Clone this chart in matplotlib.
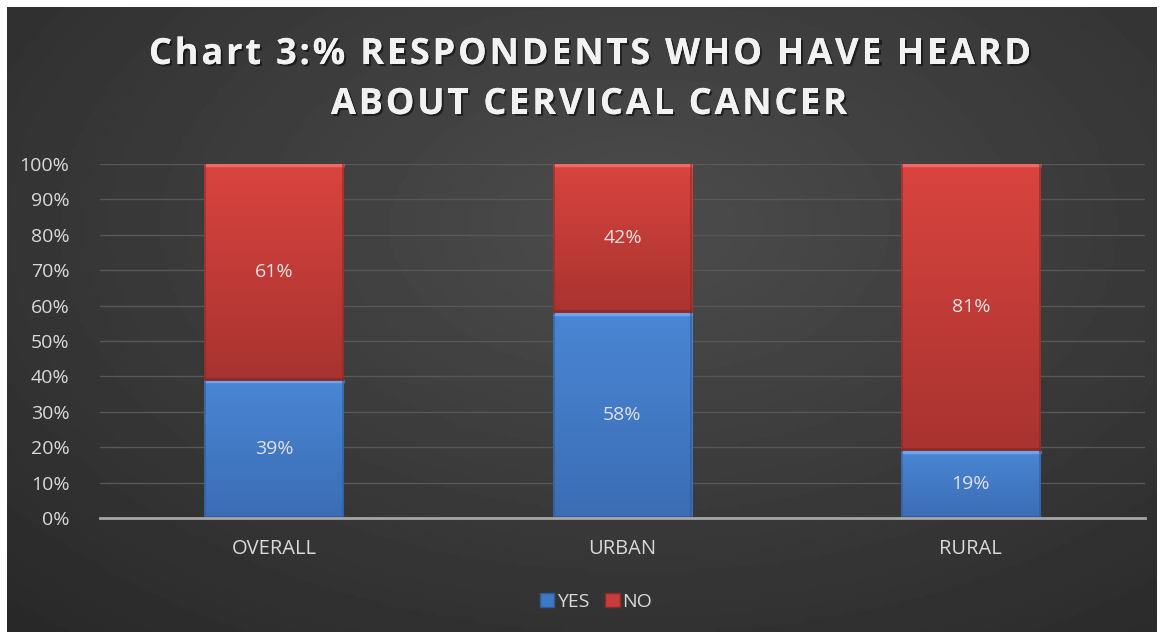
import numpy as np
import matplotlib
matplotlib.use("Agg")
import matplotlib.pyplot as plt
import matplotlib.patheffects as pe
from matplotlib.patches import Rectangle
from matplotlib.colors import LinearSegmentedColormap
from matplotlib.font_manager import FontProperties

categories = ["OVERALL", "URBAN", "RURAL"]
yes_vals = [39, 58, 19]
no_vals = [61, 42, 81]
series_names = ["YES", "NO"]
title_lines = ["Chart 3:% RESPONDENTS WHO HAVE HEARD", "ABOUT CERVICAL CANCER"]

plt.rcParams['font.family'] = ['Open Sans', 'DejaVu Sans']

W, H = 1162, 636
fig = plt.figure(figsize=(W / 100, H / 100), dpi=100)
fig.patch.set_facecolor('white')

# dark gradient background inside a thin white frame
bg = fig.add_axes([7 / W, 4 / H, 1150 / W, 625 / H])
bg.set_axis_off()
yy, xx = np.mgrid[0:1:200j, 0:1:300j]
d = np.sqrt(((xx - 0.55) * 1.1) ** 2 + ((yy - 0.35) * 1.0) ** 2)
bg.imshow(0.30 - 0.16 * np.clip(d, 0, 1), cmap='gray', vmin=0, vmax=1,
          aspect='auto', extent=[0, 1, 0, 1], origin='upper')

ax = fig.add_axes([100 / W, 118 / H, 1045 / W, 354 / H])
ax.set_facecolor('none')
x = np.arange(len(categories))
w = 0.40

blue_cmap = LinearSegmentedColormap.from_list('b', ['#3b6db4', '#4a86d4'])
red_cmap = LinearSegmentedColormap.from_list('r', ['#a83330', '#d9443f'])


def grad_bar(xc, bottom, height, cmap, edge_light, edge_dark):
    r = Rectangle((xc - w / 2, bottom), w, height, facecolor='none',
                  edgecolor='none', zorder=3)
    ax.add_patch(r)
    grad = np.linspace(1, 0, 100).reshape(-1, 1)
    im = ax.imshow(grad, cmap=cmap, aspect='auto', zorder=3,
                   extent=[xc - w / 2, xc + w / 2, bottom, bottom + height])
    im.set_clip_path(r)
    # bevel edges
    ax.plot([xc - w / 2, xc + w / 2], [bottom + height - 0.4] * 2,
            color=edge_light, lw=2.5, zorder=4, solid_capstyle='butt')
    ax.plot([xc - w / 2, xc + w / 2], [bottom + 0.4] * 2,
            color=edge_dark, lw=2, zorder=4, solid_capstyle='butt')
    for xe in (xc - w / 2 + 0.002, xc + w / 2 - 0.002):
        ax.plot([xe, xe], [bottom, bottom + height], color=edge_dark,
                lw=1.2, alpha=0.7, zorder=4)


for i in range(len(categories)):
    grad_bar(x[i], 0, yes_vals[i], blue_cmap, '#6aa6ef', '#2f5c99')
    grad_bar(x[i], yes_vals[i], no_vals[i], red_cmap, '#ee6a66', '#8c2a28')
    ax.text(x[i], yes_vals[i] / 2, f"{yes_vals[i]}%", ha='center', va='center',
            color='#e0e0e0', fontsize=14, zorder=5)
    ax.text(x[i], yes_vals[i] + no_vals[i] / 2, f"{no_vals[i]}%", ha='center',
            va='center', color='#e0e0e0', fontsize=14, zorder=5)

ax.set_xlim(-0.5, len(categories) - 0.5)
ax.set_ylim(0, 100)
ax.set_yticks(range(0, 101, 10))
ax.set_yticklabels([f"{v}%" for v in range(0, 101, 10)])
ax.set_xticks(x)
ax.set_xticklabels(categories, fontsize=14.5)
ax.tick_params(axis='both', length=0, colors='#d9d9d9')
ax.tick_params(axis='y', pad=22, labelsize=14)
ax.tick_params(axis='x', pad=15)
ax.grid(axis='y', color='#575757', lw=1)
ax.set_axisbelow(True)
for s in ['top', 'right', 'left']:
    ax.spines[s].set_visible(False)
ax.spines['bottom'].set_color('#a6a6a6')
ax.spines['bottom'].set_linewidth(2)
ax.spines['bottom'].set_zorder(6)

# legend
handles = [Rectangle((0, 0), 1, 1, facecolor='#3f78c6', edgecolor='#2f5c99'),
           Rectangle((0, 0), 1, 1, facecolor='#c73d39', edgecolor='#8c2a28')]
leg = fig.legend(handles, series_names, loc='center',
                 bbox_to_anchor=(596 / W, 1 - 602 / H),
                 ncol=2, frameon=False, handlelength=0.75, handleheight=0.75,
                 handletextpad=0.15, columnspacing=0.8, fontsize=14)
for t in leg.get_texts():
    t.set_color('#d9d9d9')

# title with letter spacing, drawn char by char
fp = FontProperties(family=['Open Sans', 'DejaVu Sans'], weight='bold', size=26)
renderer = fig.canvas.get_renderer()
spacing = 2.8
shadow = [pe.withSimplePatchShadow(offset=(1.5, -1.5), shadow_rgbFace='black', alpha=0.5),
          pe.Normal()]
for line, (cx, cy) in zip(title_lines, [(590, 55), (589, 105)]):
    widths = [renderer.get_text_width_height_descent(ch, fp, ismath=False)[0]
              for ch in line]
    total = sum(widths) + spacing * (len(line) - 1)
    px = cx - total / 2
    for ch, cw in zip(line, widths):
        if ch != ' ':
            fig.text(px / W, 1 - cy / H, ch, ha='left', va='center',
                     fontproperties=fp, color='#f2f2f2', path_effects=shadow)
        px += cw + spacing

fig.savefig('out.png', dpi=100, facecolor=fig.get_facecolor())
